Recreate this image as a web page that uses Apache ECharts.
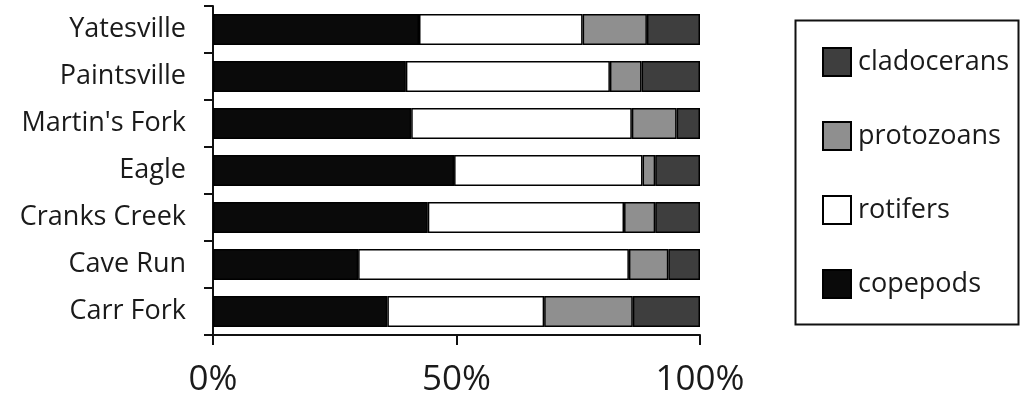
<!DOCTYPE html>
<html>
<head>
<meta charset="utf-8">
<script src="https://cdn.jsdelivr.net/npm/echarts@6/dist/echarts.min.js"></script>
<style>
html,body{margin:0;padding:0;background:#fff;}
#chart{width:1020px;height:402px;}
</style>
</head>
<body>
<div id="chart"></div>
<script>
// Categories from top to bottom
var categories = ["Yatesville", "Paintsville", "Martin's Fork", "Eagle", "Cranks Creek", "Cave Run", "Carr Fork"];
// Percent shares
var copepods    = [42.3, 39.6, 40.7, 49.5, 44.1, 29.8, 35.8];
var rotifers    = [33.6, 41.9, 45.3, 38.7, 40.3, 55.6, 32.2];
var protozoans  = [13.2, 6.5, 9.2, 2.6, 6.4, 8.1, 18.2];
var cladocerans = [10.9, 12.0, 4.8, 9.2, 9.2, 6.5, 13.8];
var xTicks = [0, 50, 100];

var FONT = "'Open Sans', 'Noto Sans', sans-serif";
var chart = echarts.init(document.getElementById('chart'), null, {renderer: 'canvas'});

function bar(name, data, color) {
  return {
    name: name, type: 'bar', stack: 'total', data: data,
    barWidth: 31,
    itemStyle: {color: color, borderColor: '#000', borderWidth: 1.5},
    emphasis: {disabled: true}
  };
}

chart.setOption({
  animation: false,
  backgroundColor: '#fff',
  grid: {left: 213, right: 320, top: 6, bottom: 67, containLabel: false},
  xAxis: {
    type: 'value', min: xTicks[0], max: xTicks[xTicks.length - 1], interval: 50,
    axisLine: {show: true, lineStyle: {color: '#111', width: 2}},
    axisTick: {show: true, length: 10, lineStyle: {color: '#111', width: 2}},
    splitLine: {show: false},
    axisLabel: {formatter: '{value}%', fontSize: 35, color: '#1a1a1a', fontFamily: FONT, margin: 28}
  },
  yAxis: {
    type: 'category', data: categories, inverse: true,
    axisLine: {show: true, lineStyle: {color: '#111', width: 2}},
    axisTick: {show: true, length: 9, lineStyle: {color: '#111', width: 2}},
    axisLabel: {fontSize: 27, color: '#1a1a1a', fontFamily: FONT, margin: 27}
  },
  legend: {
    orient: 'vertical', left: 817, top: 42,
    itemWidth: 28, itemHeight: 28, itemGap: 44,
    icon: 'rect',
    data: ['cladocerans', 'protozoans', 'rotifers', 'copepods'],
    textStyle: {fontSize: 27, color: '#1a1a1a', fontFamily: FONT, lineHeight: 28, padding: [0, 0, 0, 2]},
    selectedMode: false
  },
  graphic: [{
    type: 'rect', left: 793, top: 18,
    shape: {width: 223, height: 304},
    style: {fill: 'none', stroke: '#111', lineWidth: 2},
    silent: true
  }],
  series: [
    bar('copepods', copepods, '#0a0a0a'),
    bar('rotifers', rotifers, '#ffffff'),
    bar('protozoans', protozoans, '#8f8f8f'),
    bar('cladocerans', cladocerans, '#3e3e3e')
  ]
});
</script>
</body>
</html>
